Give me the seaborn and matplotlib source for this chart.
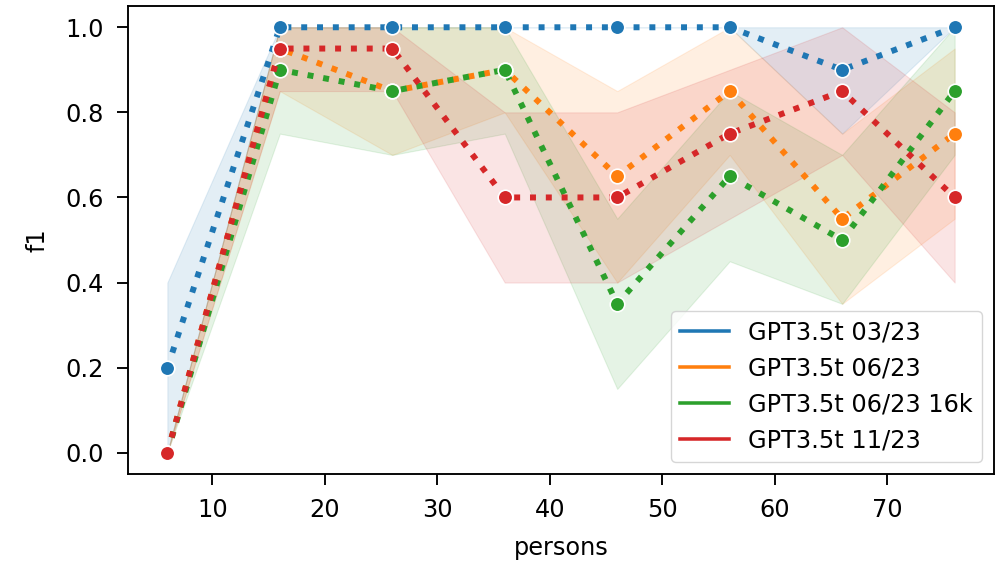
import matplotlib
matplotlib.use("Agg")
import matplotlib.pyplot as plt
from matplotlib.lines import Line2D
import numpy as np
import pandas as pd
import seaborn as sns

# number of persons in the prompt
persons = [6, 16, 26, 36, 46, 56, 66, 76]

models = ["GPT3.5t 03/23", "GPT3.5t 06/23", "GPT3.5t 06/23 16k", "GPT3.5t 11/23"]

# mean f1 per model
f1_0323 = [0.20, 1.00, 1.00, 1.00, 1.00, 1.00, 0.90, 1.00]
f1_0623 = [0.00, 0.95, 0.85, 0.90, 0.65, 0.85, 0.55, 0.75]
f1_0623_16k = [0.00, 0.90, 0.85, 0.90, 0.35, 0.65, 0.50, 0.85]
f1_1123 = [0.00, 0.95, 0.95, 0.60, 0.60, 0.75, 0.85, 0.60]

# confidence interval bounds per model
lo_0323 = [0.00, 1.00, 1.00, 1.00, 1.00, 1.00, 0.75, 1.00]
hi_0323 = [0.40, 1.00, 1.00, 1.00, 1.00, 1.00, 1.00, 1.00]
lo_0623 = [0.00, 0.85, 0.70, 0.80, 0.40, 0.70, 0.35, 0.55]
hi_0623 = [0.00, 1.00, 1.00, 1.00, 0.85, 1.00, 0.75, 0.95]
lo_0623_16k = [0.00, 0.75, 0.70, 0.75, 0.15, 0.45, 0.35, 0.70]
hi_0623_16k = [0.00, 1.00, 1.00, 1.00, 0.55, 0.85, 0.70, 1.00]
lo_1123 = [0.00, 0.85, 0.85, 0.40, 0.40, 0.55, 0.70, 0.40]
hi_1123 = [0.00, 1.00, 1.00, 0.80, 0.80, 0.90, 1.00, 0.80]

means = [f1_0323, f1_0623, f1_0623_16k, f1_1123]
lows = [lo_0323, lo_0623, lo_0623_16k, lo_1123]
highs = [hi_0323, hi_0623, hi_0623_16k, hi_1123]

df = pd.DataFrame({
    "persons": np.tile(persons, len(models)),
    "f1": np.concatenate(means),
    "lo": np.concatenate(lows),
    "hi": np.concatenate(highs),
    "model": np.repeat(models, len(persons)),
})

palette = dict(zip(models, sns.color_palette("tab10", 4)))

FS = 17.3
plt.rcParams["font.family"] = ["DejaVu Sans"]
plt.rcParams["font.size"] = FS

fig = plt.figure(figsize=(10, 5.66), dpi=100)
ax = fig.add_axes([0.128, 1 - 474 / 566, 0.994 - 0.128, (474 - 6) / 566])

for m in models:
    sub = df[df["model"] == m]
    ax.fill_between(sub["persons"], sub["lo"], sub["hi"], color=palette[m],
                    alpha=0.12, linewidth=0.8, zorder=1)

sns.lineplot(data=df, x="persons", y="f1", hue="model", palette=palette,
             errorbar=None, marker="o", markersize=10.5, markeredgecolor="white",
             markeredgewidth=1.2, linestyle=":", linewidth=4.3, legend=False,
             ax=ax, zorder=3)

ax.set_xlabel("persons", fontsize=FS, labelpad=10)
ax.set_ylabel("f1", fontsize=FS, labelpad=11)
ax.tick_params(labelsize=FS, width=1.36, length=8, pad=9.5)
for s in ax.spines.values():
    s.set_linewidth(1.36)
ax.set_yticks([0.0, 0.2, 0.4, 0.6, 0.8, 1.0])
ax.set_xticks([10, 20, 30, 40, 50, 60, 70])

handles = [Line2D([0], [0], color=palette[m], lw=2.55) for m in models]
ax.legend(handles, models, loc="lower right", fontsize=FS)

fig.savefig("out.png", dpi=100)
